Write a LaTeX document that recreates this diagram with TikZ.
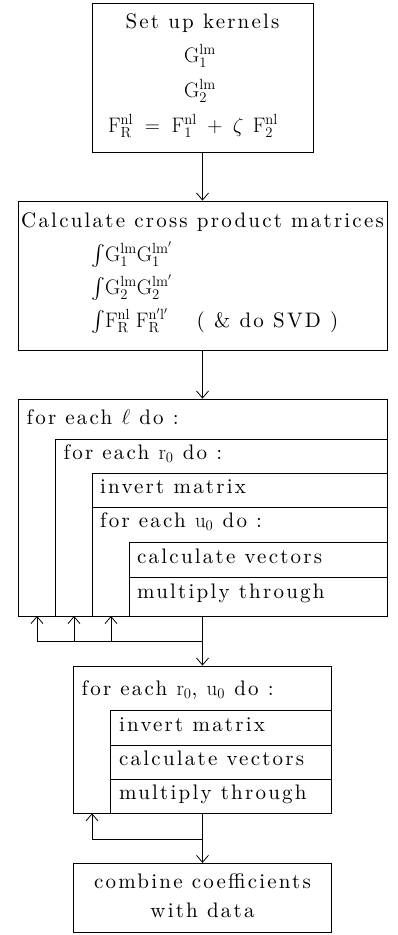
\RequirePackage{fix-cm}
\documentclass[tikz,border=0pt]{standalone}
\usepackage{exscale}
\usepackage{fontspec}
\usetikzlibrary{arrows.meta,fit}
\newfontfamily\spfont{lmroman10-regular.otf}[LetterSpace=10.5]
\newcommand{\sptext}{\spfont\fontsize{21}{25}\selectfont}
\newcommand{\rmm}[1]{\mathrm{#1}}

\tikzset{
  box/.style={draw, inner sep=0pt, line width=0.8pt},
  txt/.style={anchor=base west, inner sep=0pt, font=\sptext},
  ctxt/.style={txt, anchor=base},
  link/.style={line width=0.8pt},
  flow/.style={link, -{Straight Barb[length=7pt,width=12pt]}}
}

\begin{document}
\begin{tikzpicture}[x=1pt,y=-1pt]
\useasboundingbox (0,0) rectangle (398,935);

% kernels
\node[box, fit={(92,3) (313,152)}] (kern) {};
\node[ctxt] (kern1) at (202.5,28.5) {Set up kernels};
\node[txt] (kern2) at (184,62) {$\rmm{G}^{\rmm{lm}}_{1}$};
\node[txt] (kern3) at (184,97) {$\rmm{G}^{\rmm{lm}}_{2}$};
\node[ctxt] (kern4) at (193,132) {$\rmm{F}^{\rmm{nl}}_{\rmm{R}} \;=\; \rmm{F}^{\rmm{nl}}_{1} \;+\; \zeta\;\,\rmm{F}^{\rmm{nl}}_{2}$};

% cross products
\node[box, fit={(18,201) (387,350)}] (cross) {};
\node[ctxt] (cross1) at (202.5,227) {Calculate cross product matrices};
\node[txt] (cross2) at (91,261) {$\int\!\rmm{G}^{\rmm{lm}}_{1}\rmm{G}^{\rmm{lm}'}_{1}$};
\node[txt] (cross3) at (91,294) {$\int\!\rmm{G}^{\rmm{lm}}_{2}\rmm{G}^{\rmm{lm}'}_{2}$};
\node[txt] (cross4) at (91,327) {$\int\!\rmm{F}^{\rmm{nl}}_{\rmm{R}}\;\rmm{F}^{\rmm{n}'\rmm{l}'}_{\rmm{R}}$};
\node[txt] (svd) at (196.5,327) {( \& do SVD )};

% nested loops
\node[box, fit={(18,399) (387,616)}] (eachl) {};
\node[box, fit={(55.7,439) (387,616)}] (eachr) {};
\node[box, fit={(92.7,473) (387,507)}] (inva) {};
\node[box, fit={(92.7,507) (387,616)}] (eachu) {};
\node[box, fit={(129.3,542) (387,577)}] (calca) {};
\node[box, fit={(129.3,577) (387,616)}] (multa) {};
\node[txt] at (26.5,424) {for each $\ell$ do :};
\node[txt] at (63.5,459) {for each $\rmm{r}_{0}$ do :};
\node[txt] at (100,493) {invert matrix};
\node[txt] at (100,527) {for each $\rmm{u}_{0}$ do :};
\node[txt] at (137,563) {calculate vectors};
\node[txt] at (137,598) {multiply through};

% single loop
\node[box, fit={(73.3,666) (331.7,813.3)}] (pair) {};
\node[box, fit={(110.7,710) (331.7,745.3)}] (invb) {};
\node[box, fit={(110.7,745.3) (331.7,779.3)}] (calcb) {};
\node[box, fit={(110.7,779.3) (331.7,813.3)}] (multb) {};
\node[txt] at (81.5,695) {for each $\rmm{r}_{0}$, $\rmm{u}_{0}$ do :};
\node[txt] at (119,731) {invert matrix};
\node[txt] at (119,765) {calculate vectors};
\node[txt] at (119,799) {multiply through};

% result
\node[box, fit={(73.3,863.3) (331.7,932.7)}] (comb) {};
\node[ctxt] at (202.5,888) {combine coefficients};
\node[ctxt] at (202.5,917.5) {with data};

% flow
\draw[flow] (kern.south) -- (cross.north);
\draw[flow] (cross.south) -- (eachl.north);
\draw[flow] (eachl.south) -- (pair.north);
\draw[flow] (pair.south) -- (comb.north);

% loop backs
\coordinate (ret1) at (202.5,641);
\foreach \i/\x in {1/37,2/74,3/111}{
  \coordinate (back\i) at (\x,616);
  \draw[flow] (ret1) -| (back\i);
}
\coordinate (ret2) at (202.5,839);
\coordinate (back4) at (92,813.3);
\draw[flow] (ret2) -| (back4);
\end{tikzpicture}
\end{document}
